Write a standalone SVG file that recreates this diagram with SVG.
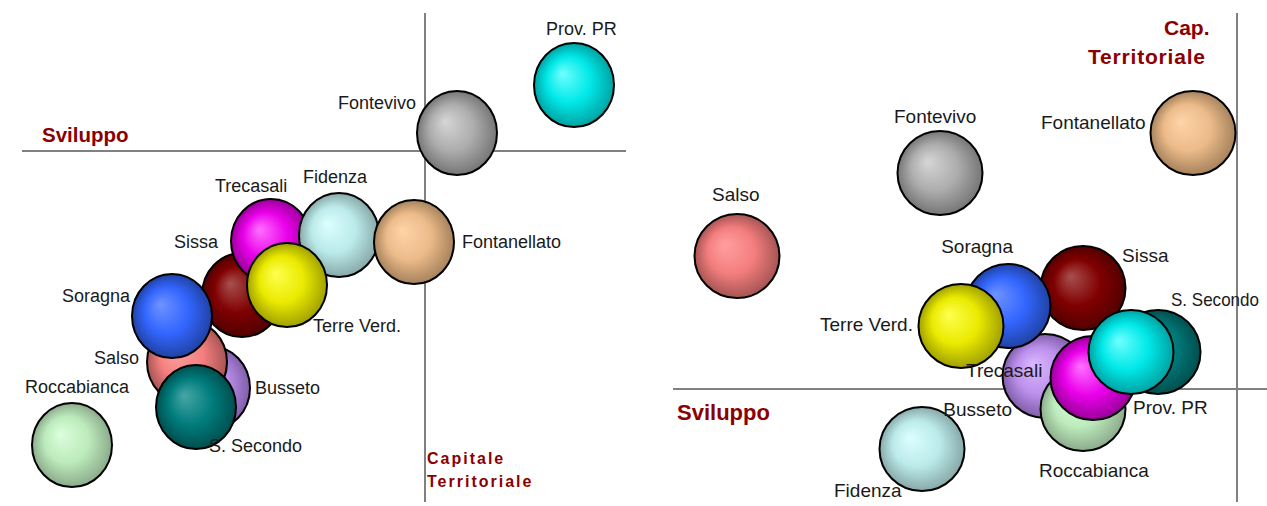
<svg xmlns="http://www.w3.org/2000/svg" width="1267" height="506" viewBox="0 0 1267 506">
<style>
.axis{stroke:#808080;stroke-width:2;fill:none}
.b{stroke:#000;stroke-width:2}
.lbl{font-family:"Liberation Sans",Arial,sans-serif;font-size:18px;fill:#1a1a1a}
.lr{font-size:19px}
.ttl{font-family:"Liberation Sans",Arial,sans-serif;font-weight:bold;fill:#8b0000}
</style>
<defs>
<radialGradient id="gGray" cx="0.5" cy="0.5" r="0.5" fx="0.35" fy="0.36"><stop offset="0" stop-color="#d6d6d6"/><stop offset="0.55" stop-color="#adadad"/><stop offset="1" stop-color="#767676"/></radialGradient>
<radialGradient id="gCyan" cx="0.5" cy="0.5" r="0.5" fx="0.35" fy="0.36"><stop offset="0" stop-color="#70ffff"/><stop offset="0.55" stop-color="#00e8e8"/><stop offset="1" stop-color="#00a2a2"/></radialGradient>
<radialGradient id="gMag" cx="0.5" cy="0.5" r="0.5" fx="0.35" fy="0.36"><stop offset="0" stop-color="#ff70ff"/><stop offset="0.55" stop-color="#ea00ea"/><stop offset="1" stop-color="#9a009a"/></radialGradient>
<radialGradient id="gLCyan" cx="0.5" cy="0.5" r="0.5" fx="0.35" fy="0.36"><stop offset="0" stop-color="#dcffff"/><stop offset="0.55" stop-color="#bbeaea"/><stop offset="1" stop-color="#88a8a8"/></radialGradient>
<radialGradient id="gTan" cx="0.5" cy="0.5" r="0.5" fx="0.35" fy="0.36"><stop offset="0" stop-color="#ffd4a8"/><stop offset="0.55" stop-color="#ecbb8a"/><stop offset="1" stop-color="#a6825c"/></radialGradient>
<radialGradient id="gDRed" cx="0.5" cy="0.5" r="0.5" fx="0.35" fy="0.36"><stop offset="0" stop-color="#a85050"/><stop offset="0.55" stop-color="#800000"/><stop offset="1" stop-color="#520000"/></radialGradient>
<radialGradient id="gYel" cx="0.5" cy="0.5" r="0.5" fx="0.35" fy="0.36"><stop offset="0" stop-color="#ffff50"/><stop offset="0.55" stop-color="#eaea00"/><stop offset="1" stop-color="#a0a000"/></radialGradient>
<radialGradient id="gBlue" cx="0.5" cy="0.5" r="0.5" fx="0.35" fy="0.36"><stop offset="0" stop-color="#6f93ff"/><stop offset="0.55" stop-color="#3366ff"/><stop offset="1" stop-color="#2042a4"/></radialGradient>
<radialGradient id="gSal" cx="0.5" cy="0.5" r="0.5" fx="0.35" fy="0.36"><stop offset="0" stop-color="#ffa0a0"/><stop offset="0.55" stop-color="#f47e7e"/><stop offset="1" stop-color="#a65454"/></radialGradient>
<radialGradient id="gPur" cx="0.5" cy="0.5" r="0.5" fx="0.35" fy="0.36"><stop offset="0" stop-color="#dcb8ff"/><stop offset="0.55" stop-color="#bc90ec"/><stop offset="1" stop-color="#805eaa"/></radialGradient>
<radialGradient id="gTeal" cx="0.5" cy="0.5" r="0.5" fx="0.35" fy="0.36"><stop offset="0" stop-color="#48a6a6"/><stop offset="0.55" stop-color="#007c7c"/><stop offset="1" stop-color="#004e4e"/></radialGradient>
<radialGradient id="gLGrn" cx="0.5" cy="0.5" r="0.5" fx="0.35" fy="0.36"><stop offset="0" stop-color="#dcffdc"/><stop offset="0.55" stop-color="#bcebbc"/><stop offset="1" stop-color="#8cab8c"/></radialGradient>
</defs>

<g id="axes">
<line class="axis" x1="425" y1="13" x2="425" y2="502"/>
<line class="axis" x1="22" y1="151" x2="626" y2="151"/>
<line class="axis" x1="1237" y1="13" x2="1237" y2="502"/>
<line class="axis" x1="673" y1="389" x2="1267" y2="389"/>
</g>

<g id="left-chart">
<g id="L-roccabianca"><ellipse class="b" cx="72" cy="445" rx="40" ry="42" fill="url(#gLGrn)"/></g>
<g id="L-fontevivo"><ellipse class="b" cx="457" cy="133" rx="40" ry="42" fill="url(#gGray)"/></g>
<g id="L-provpr"><ellipse class="b" cx="574" cy="85" rx="40" ry="42" fill="url(#gCyan)"/></g>
<g id="L-sissa"><ellipse class="b" cx="242" cy="295" rx="40" ry="42" fill="url(#gDRed)"/></g>
<g id="L-trecasali"><ellipse class="b" cx="271" cy="241" rx="40" ry="42" fill="url(#gMag)"/></g>
<g id="L-fidenza"><ellipse class="b" cx="339" cy="235" rx="40" ry="42" fill="url(#gLCyan)"/></g>
<g id="L-fontanellato"><ellipse class="b" cx="414" cy="242" rx="40" ry="42" fill="url(#gTan)"/></g>
<g id="L-terreverd"><ellipse class="b" cx="287" cy="285" rx="40" ry="42" fill="url(#gYel)"/></g>
<g id="L-busseto"><ellipse class="b" cx="210" cy="388" rx="40" ry="42" fill="url(#gPur)"/></g>
<g id="L-salso"><ellipse class="b" cx="187" cy="362" rx="40" ry="42" fill="url(#gSal)"/></g>
<g id="L-soragna"><ellipse class="b" cx="172" cy="316" rx="40" ry="42" fill="url(#gBlue)"/></g>
<g id="L-ssecondo"><ellipse class="b" cx="196" cy="407" rx="40" ry="42" fill="url(#gTeal)"/></g>
</g>

<g id="left-labels">
<text class="lbl" x="546" y="35">Prov. PR</text>
<text class="lbl" x="416" y="109" text-anchor="end">Fontevivo</text>
<text class="lbl" x="215" y="192">Trecasali</text>
<text class="lbl" x="303" y="183">Fidenza</text>
<text class="lbl" x="462" y="248">Fontanellato</text>
<text class="lbl" x="174" y="248">Sissa</text>
<text class="lbl" x="313" y="332">Terre Verd.</text>
<text class="lbl" x="130" y="302" text-anchor="end">Soragna</text>
<text class="lbl" x="139" y="364" text-anchor="end">Salso</text>
<text class="lbl" x="25" y="393">Roccabianca</text>
<text class="lbl" x="255" y="394">Busseto</text>
<text class="lbl" x="209" y="452">S. Secondo</text>
<text class="ttl" x="42" y="142" font-size="20.5">Sviluppo</text>
<text class="ttl" x="427" y="464" font-size="16" letter-spacing="2">Capitale</text>
<text class="ttl" x="427" y="487" font-size="16" letter-spacing="2">Territoriale</text>
</g>

<g id="right-chart">
<g id="R-fontevivo"><ellipse class="b" cx="940" cy="173" rx="42.5" ry="42" fill="url(#gGray)"/></g>
<g id="R-fontanellato"><ellipse class="b" cx="1193" cy="133" rx="42.5" ry="42" fill="url(#gTan)"/></g>
<g id="R-salso"><ellipse class="b" cx="737" cy="256" rx="42.5" ry="42" fill="url(#gSal)"/></g>
<g id="R-fidenza"><ellipse class="b" cx="922" cy="449" rx="42.5" ry="42" fill="url(#gLCyan)"/></g>
<g id="R-sissa"><ellipse class="b" cx="1083" cy="288" rx="42.5" ry="42" fill="url(#gDRed)"/></g>
<g id="R-busseto"><ellipse class="b" cx="1045" cy="376" rx="42.5" ry="42" fill="url(#gPur)"/></g>
<g id="R-soragna"><ellipse class="b" cx="1008" cy="306" rx="42.5" ry="42" fill="url(#gBlue)"/></g>
<g id="R-terreverd"><ellipse class="b" cx="961" cy="326" rx="42.5" ry="42" fill="url(#gYel)"/></g>
<g id="R-roccabianca"><ellipse class="b" cx="1083" cy="409" rx="42.5" ry="42" fill="url(#gLGrn)"/></g>
<g id="R-trecasali"><ellipse class="b" cx="1093" cy="378" rx="42.5" ry="42" fill="url(#gMag)"/></g>
<g id="R-ssecondo"><ellipse class="b" cx="1158" cy="352" rx="42.5" ry="42" fill="url(#gTeal)"/></g>
<g id="R-provpr"><ellipse class="b" cx="1131" cy="352" rx="42.5" ry="42" fill="url(#gCyan)"/></g>
</g>

<g id="right-labels">
<text class="lbl lr" x="894" y="123">Fontevivo</text>
<text class="lbl lr" x="1041" y="129">Fontanellato</text>
<text class="lbl lr" x="712" y="201">Salso</text>
<text class="lbl lr" x="1013" y="253" text-anchor="end">Soragna</text>
<text class="lbl lr" x="1122" y="262">Sissa</text>
<text class="lbl lr" x="1171" y="306" textLength="88" lengthAdjust="spacingAndGlyphs">S. Secondo</text>
<text class="lbl lr" x="820" y="331">Terre Verd.</text>
<text class="lbl lr" x="966" y="377">Trecasali</text>
<text class="lbl lr" x="1012" y="416" text-anchor="end">Busseto</text>
<text class="lbl lr" x="1133" y="414">Prov. PR</text>
<text class="lbl lr" x="1039" y="477">Roccabianca</text>
<text class="lbl lr" x="834" y="497">Fidenza</text>
<text class="ttl" x="677" y="420" font-size="22">Sviluppo</text>
<text class="ttl" x="1164" y="35" font-size="21">Cap.</text>
<text class="ttl" x="1088" y="64" font-size="21" letter-spacing="0.8">Territoriale</text>
</g>
</svg>
